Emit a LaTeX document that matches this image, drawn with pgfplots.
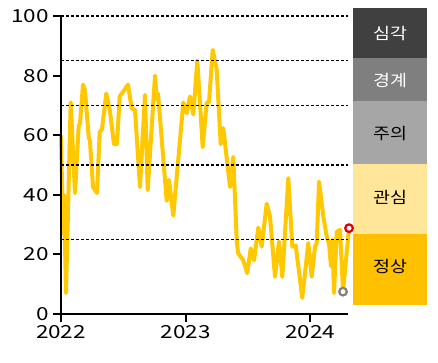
\documentclass[border=0pt]{standalone}
\usepackage{fontspec}
\setmainfont{Noto Sans CJK KR}
\usepackage{pgfplots}
\pgfplotsset{compat=1.18}
\definecolor{gold}{RGB}{255,200,0}
\definecolor{bgold}{RGB}{255,192,0}
\definecolor{lgold}{RGB}{255,230,153}
\definecolor{dgray}{RGB}{64,64,64}
\definecolor{mgray}{RGB}{127,127,127}
\definecolor{lgray}{RGB}{166,166,166}
\definecolor{redc}{RGB}{224,0,0}
\begin{document}
\begin{tikzpicture}
\begin{axis}[
  at={(0,0)}, anchor=south west,
  scale only axis, width=287pt, height=298pt,
  xmin=2022, xmax=2024.305, ymin=0, ymax=100,
  clip=false, axis on top,
  axis x line=bottom, axis y line=left,
  axis line style={-, line width=2.2pt, black},
  xtick={2022,2023,2024}, ytick={0,20,40,60,80,100},
  tick align=outside, major tick length=8pt,
  tick style={line width=2pt, black},
  /pgf/number format/assume math mode=true,
  /pgf/number format/1000 sep={},
  ticklabel style={font=\fontsize{18}{20}\selectfont, xscale=1.25},
  extra y ticks={25,50,70,85,100}, extra y tick labels={},
  extra y tick style={grid=major, major tick length=0pt,
     major grid style={black, line width=1.5pt, dash pattern=on 3pt off 2pt}},
  x filter/.expression={2022+(x-61)/124.5},
]
\fill[dgray] (axis cs:2024.345,102.7) rectangle (axis cs:2024.94,86);
\fill[mgray] (axis cs:2024.345,86) rectangle (axis cs:2024.94,71.5);
\fill[lgray] (axis cs:2024.345,71.5) rectangle (axis cs:2024.94,50.3);
\fill[lgold] (axis cs:2024.345,50.3) rectangle (axis cs:2024.94,26.8);
\fill[bgold] (axis cs:2024.345,26.8) rectangle (axis cs:2024.94,3);
\node[white, font=\fontsize{16}{17}\selectfont, xscale=1.15] at (axis cs:2024.643,94) {심각};
\node[white, font=\fontsize{16}{17}\selectfont, xscale=1.15] at (axis cs:2024.643,78.5) {경계};
\node[black, font=\fontsize{16}{17}\selectfont, xscale=1.15] at (axis cs:2024.643,60.7) {주의};
\node[black, font=\fontsize{16}{17}\selectfont, xscale=1.15] at (axis cs:2024.643,39) {관심};
\node[black, font=\fontsize{16}{17}\selectfont, xscale=1.15] at (axis cs:2024.643,15.8) {정상};
\addplot[gold, line width=4pt, line join=round] coordinates {
(61,60) (63,27) (64,40) (66,7) (70.7,71) (75,40.6) (78.7,63) (80,64) (83,77) (85,75)
(88.7,59.4) (90,58) (93,42.6) (97,40.6) (99.7,61) (102,62) (106.3,74) (110,68) (114,57) (117,57)
(119.7,73) (124,75) (128,77) (131.7,69) (135,68.5) (140,42.6) (145,73.5) (147.7,41.6) (155,80) (156.7,72)
(158,74) (166.7,38) (169,45) (173.3,33) (183.3,71) (186.7,67.4) (190,73) (193.3,67) (197.3,85) (202.7,56)
(206.7,71) (209,71) (212.7,88.6) (216.7,82) (220.7,57) (223.3,62.4) (230,42.6) (233.3,52.7) (236.7,24.8) (238,20.5)
(243.3,18) (247.3,13.7) (250.7,22) (254,18) (258.3,29) (261.7,22.6) (266.7,37) (270,32.7) (275,12.5) (279,24.3)
(282.3,12.5) (288.3,45.6) (292.3,22.6) (295.7,23) (302.3,5.4) (306.7,19) (308.3,23.8) (311.7,12.5) (315,22.6) (316.7,23.8)
(319,44.4) (323.3,32.7) (326.7,26) (329,23.7) (331,16) (332.3,24.8) (334,7) (336.7,27.6) (340,28.2) (343,7.5)
(349,28.8)
};
\addplot[only marks, mark=*, mark size=3.8pt, mark options={draw=mgray, fill=white, line width=2.2pt}] coordinates {(343,7.5)};
\addplot[only marks, mark=*, mark size=3.8pt, mark options={draw=redc, fill=white, line width=2.2pt}] coordinates {(349,28.8)};
\end{axis}
\pgfresetboundingbox
\useasboundingbox (-61pt,-48pt) rectangle (377pt,314pt);
\end{tikzpicture}
\end{document}
